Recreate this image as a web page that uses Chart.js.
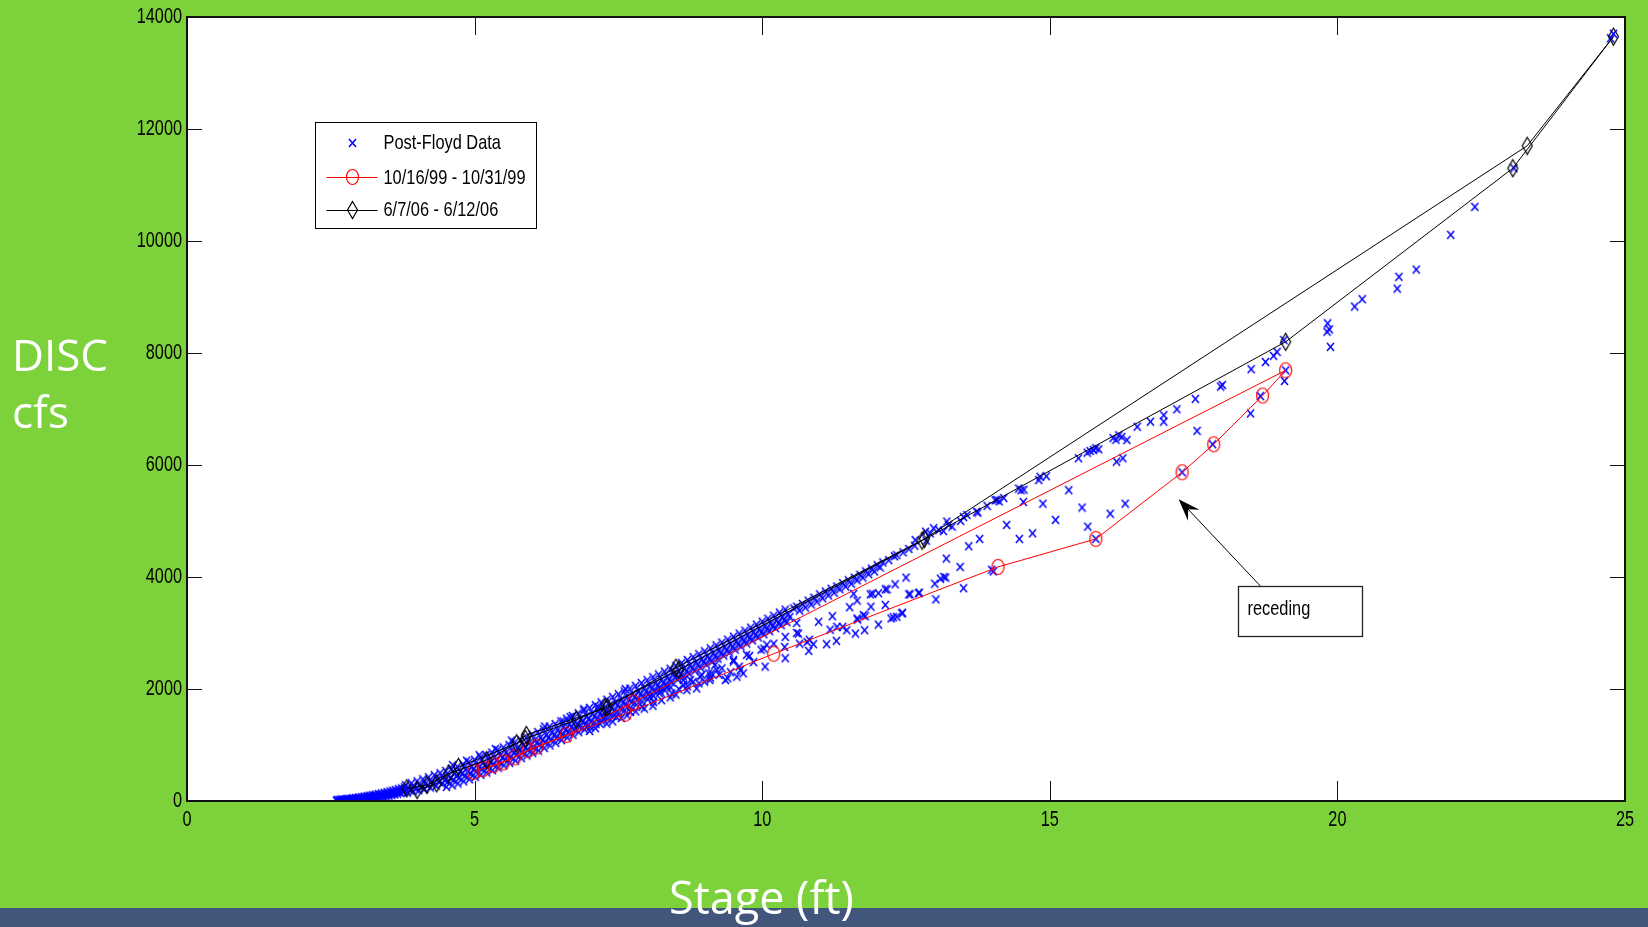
<!DOCTYPE html>
<html>
<head>
<meta charset="utf-8">
<script src="https://cdn.jsdelivr.net/npm/chart.js@4"></script>
<style>
  html, body { margin: 0; padding: 0; }
  body { width: 1648px; height: 927px; background: #7dd23c; position: relative; overflow: hidden; font-family: "Open Sans", sans-serif; }
  #chart { position: absolute; left: 0; top: 0; }
  .bar { position: absolute; left: 0; top: 908px; width: 1648px; height: 19px; background: #42557a; }
  .label { position: absolute; color: #fff; font-size: 44px; line-height: 44px; white-space: nowrap; }
</style>
</head>
<body>
<canvas id="chart" width="1648" height="927"></canvas>
<div class="bar"></div>
<div class="label" style="left:12px;top:332px">DISC</div>
<div class="label" style="left:12px;top:389px">cfs</div>
<div class="label" style="left:669px;top:875px;font-size:45px">Stage (ft)</div>
<script>
/* ------------------ DATA ------------------ */
const stageTicks = [0, 5, 10, 15, 20, 25];
const flowTicks = [0, 2000, 4000, 6000, 8000, 10000, 12000, 14000];

const legendLabels = ["Post-Floyd Data", "10/16/99 - 10/31/99", "6/7/06 - 6/12/06"];

// Post-Floyd measurements [stage ft, discharge cfs]
const floydData = [
  [2.60,8],[2.62,22],[2.65,14],[2.68,30],[2.70,18],[2.73,26],[2.76,12],[2.78,36],
  [2.80,24],[2.83,40],[2.86,30],[2.88,48],[2.90,34],[2.93,54],[2.96,42],[2.98,62],
  [3.00,46],[3.03,70],[3.06,56],[3.08,80],[3.10,60],[3.13,86],[3.16,70],[3.18,96],
  [3.20,74],[3.23,104],[3.26,88],[3.28,116],[3.30,92],[3.33,124],[3.36,104],[3.38,136],
  [3.40,106],[3.43,146],[3.46,122],[3.48,158],[3.50,124],[3.53,170],[3.56,142],[3.58,184],
  [3.60,140],[3.63,196],[3.66,162],[3.68,214],[3.70,160],[3.73,226],[3.76,188],[3.78,244],
  [2.61,0],[2.66,4],[2.71,2],[2.76,6],[2.81,10],[2.86,8],[2.91,16],[2.96,14],
  [3.01,22],[3.06,20],[3.11,30],[3.16,30],[3.21,40],[3.26,44],[3.31,54],[3.36,60],
  [3.41,72],[3.46,80],[3.51,92],[3.56,104],[3.61,118],[3.66,130],[3.71,146],[3.76,160],
  [3.80,282],[3.83,150],[3.85,222],[3.88,190],[3.90,316],[3.93,170],[3.95,252],[3.98,214],
  [4.00,352],[4.03,190],[4.05,280],[4.08,246],[4.10,388],[4.13,214],[4.15,310],[4.18,272],
  [4.20,424],[4.23,240],[4.25,348],[4.28,306],[4.30,462],[4.33,272],[4.35,380],[4.38,340],
  [4.40,498],[4.43,304],[4.45,418],[4.48,372],[4.50,536],[4.53,338],[4.55,452],[4.58,410],
  [4.60,574],[4.63,372],[4.65,492],[4.68,446],[4.70,612],[4.73,410],[4.75,530],[4.78,486],
  [4.80,654],[4.83,448],[4.85,568],[4.88,524],[4.90,694],[4.93,488],[4.95,610],[4.98,566],
  [5.00,736],[5.03,526],[5.05,650],[5.08,604],[5.10,778],[5.13,568],[5.15,690],[5.18,646],
  [5.20,822],[5.23,608],[5.25,734],[5.28,688],[5.30,866],[5.33,650],[5.35,776],[5.38,730],
  [5.40,910],[5.43,692],[5.45,820],[5.48,772],[5.50,956],[5.53,736],[5.55,864],[5.58,816],
  [5.60,1000],[5.63,780],[5.65,906],[5.68,860],[5.70,1046],[5.73,822],[5.75,952],[5.78,904],
  [5.80,1092],[5.83,866],[5.85,998],[5.88,948],[5.90,1138],[5.93,910],[5.95,1044],[5.98,994],
  [6.00,1186],[6.03,954],[6.05,1090],[6.08,1040],[6.10,1232],[6.13,1000],[6.15,1136],[6.18,1086],
  [6.20,1280],[6.23,1044],[6.25,1182],[6.28,1130],[6.30,1328],[6.33,1090],[6.35,1230],[6.38,1176],
  [6.40,1374],[6.43,1136],[6.45,1276],[6.48,1222],[6.50,1422],[6.53,1182],[6.55,1324],[6.58,1270],
  [6.60,1470],[6.63,1230],[6.65,1372],[6.68,1318],[6.70,1518],[6.73,1278],[6.75,1420],[6.78,1366],
  [6.80,1566],[6.83,1324],[6.85,1468],[6.88,1414],[6.90,1616],[6.93,1372],[6.95,1518],[6.98,1462],
  [7.00,1664],[7.03,1420],[7.05,1566],[7.08,1510],[7.10,1712],[7.13,1468],[7.15,1614],[7.18,1560],
  [7.20,1762],[7.23,1516],[7.25,1664],[7.28,1608],[7.30,1810],[7.33,1566],[7.35,1714],[7.38,1658],
  [7.40,1860],[7.43,1614],[7.45,1764],[7.48,1708],[7.50,1908],[7.53,1664],[7.55,1814],[7.58,1758],
  [7.60,1958],[7.63,1712],[7.65,1864],[7.68,1806],[7.70,2008],[7.73,1762],[7.75,1914],[7.78,1856],
  [7.80,2058],[7.83,1812],[7.85,1964],[7.88,1906],[7.90,2108],[7.93,1862],[7.95,2016],[7.98,1958],
  [8.00,2158],[8.03,1912],[8.05,2066],[8.08,2008],[8.10,2210],[8.13,1962],[8.15,2118],[8.18,2060],
  [8.20,2260],[8.23,2014],[8.25,2168],[8.28,2110],[8.30,2312],[8.33,2066],[8.35,2220],[8.38,2162],
  [8.40,2362],[8.43,2118],[8.45,2272],[8.48,2214],[8.50,2414],[8.53,2170],[8.55,2324],[8.58,2266],
  [8.60,2466],[8.63,2222],[8.65,2376],[8.68,2318],[8.70,2518],[8.73,2274],[8.75,2428],[8.78,2370],
  [8.80,2570],[8.83,2328],[8.85,2480],[8.88,2424],[8.90,2622],[8.93,2380],[8.95,2534],[8.98,2476],
  [9.00,2674],[9.03,2434],[9.05,2586],[9.08,2530],[9.10,2726],[9.13,2488],[9.15,2640],[9.18,2584],
  [9.20,2778],[9.23,2542],[9.25,2692],[9.28,2636],[9.30,2830],[9.33,2596],[9.35,2746],[9.38,2690],
  [9.40,2882],[9.43,2650],[9.45,2798],[9.48,2744],[9.50,2936],[9.53,2704],[9.55,2852],[9.58,2798],
  [9.60,2990],[9.63,2758],[9.65,2906],[9.68,2852],[9.70,3042],[9.73,2812],[9.75,2960],[9.78,2906],
  [9.80,3096],[9.83,2868],[9.85,3014],[9.88,2960],[9.90,3150],[9.93,2922],[9.95,3068],[9.98,3014],
  [10.00,3204],[10.03,2976],[10.05,3122],[10.08,3068],[10.10,3256],[10.13,3032],[10.15,3176],[10.18,3122],
  [10.20,3310],[10.23,3086],[10.25,3230],[10.28,3176],[10.30,3364],[10.33,3140],[10.35,3284],[10.38,3230],
  [10.40,3418],[10.43,3194],[10.45,3338],[10.48,3284],
  // lower edge of the dense band
  [4.51,250],[4.61,280],[4.71,312],[4.81,350],[4.91,388],[5.01,428],[5.11,466],[5.21,508],
  [5.31,548],[5.41,594],[5.51,634],[5.61,680],[5.71,722],[5.81,766],[5.91,812],[6.01,856],
  [6.11,900],[6.21,946],[6.31,992],[6.41,1038],[6.51,1086],[6.61,1132],[6.71,1180],[6.81,1228],
  [6.91,1276],[7.01,1324],[7.11,1372],[7.21,1422],[7.31,1472],[7.41,1520],[7.51,1570],[7.61,1620],
  [7.71,1670],[7.81,1720],[7.91,1772],[8.01,1822],[8.11,1874],[8.21,1926],[8.31,1978],[8.41,2030],
  // cloud between the red limbs
  [7.00,1250],[7.10,1300],[7.30,1380],[7.40,1420],[7.55,1480],[7.65,1530],[7.80,1600],[7.95,1650],
  [8.10,1700],[8.25,1800],[8.40,1850],[8.50,1900],[8.55,2000],[8.70,2050],[8.90,2100],[9.10,2200],
  [9.25,2250],[9.45,2300],[9.60,2400],[9.85,2480],
  // a few above the band
  [4.62,640],[4.86,720],[5.08,820],[5.36,930],[5.64,1080],[6.22,1330],[6.90,1640],[7.62,2000],
  // upper track above 10.5 ft
  [10.55,3440],[10.60,3470],[10.65,3400],[10.70,3520],[10.75,3455],[10.80,3580],[10.85,3510],[10.90,3630],
  [10.95,3560],[11.00,3690],[11.05,3620],[11.10,3740],[11.15,3670],[11.20,3790],[11.25,3720],[11.30,3830],
  [11.35,3780],[11.40,3890],[11.45,3830],[11.50,3940],[11.55,3880],[11.60,3990],[11.65,3940],[11.70,4040],
  [11.75,3990],[11.80,4100],[11.85,4050],[11.90,4150],[11.95,4100],[12.00,4210],[12.05,4170],[12.10,4260],
  [12.20,4300],[12.30,4370],[12.34,4390],[12.45,4440],[12.55,4500],[12.66,4660],[12.65,4560],[12.84,4810],
  [12.85,4650],[12.92,4780],[12.98,4870],[13.07,4840],[13.15,4820],[13.21,4990],[13.24,4930],[13.30,4900],
  [13.45,5000],[13.50,5070],[13.56,5107],[13.73,5166],[13.75,5150],[13.91,5270],[14.05,5370],[14.08,5375],
  [14.12,5350],[14.20,5410],[14.46,5580],[14.50,5550],[14.55,5560],[14.81,5730],[14.83,5790],[14.94,5800],
  [15.50,6120],[15.65,6220],[15.70,6250],[15.76,6268],[15.80,6300],[15.85,6280],[16.10,6480],[16.15,6450],
  [16.20,6530],[16.25,6500],[16.34,6446],[16.52,6684],[16.75,6774],[16.98,6890],[16.98,6774],[17.21,6995],
  [17.53,7180],[17.97,7400],[18.00,7430],[18.50,7710],[18.75,7840],[18.89,7950],[18.95,8020],[19.07,8230],
  [19.10,7690],[19.83,8530],[19.82,8380],[19.86,8420],[19.88,8110],[20.30,8830],[20.43,8960],[21.04,9150],
  [21.07,9360],[21.37,9490],[21.97,10110],[22.39,10610],[23.07,11300],[24.80,13700],[24.75,13620],
  // scattered lower measurements
  [6.54,1420],[6.66,1500],[7.15,1680],
  [6.95,1330],[7.18,1380],[7.24,1470],[7.47,1500],[7.71,1590],[7.91,1680],[8.11,1770],[8.05,1860],
  [8.23,1950],[8.34,2040],[8.43,1920],[8.63,2070],[8.69,1980],[8.86,2010],[8.80,2130],[8.63,2160],
  [8.75,2160],[8.92,2220],[9.00,2130],[9.07,2280],[8.95,2250],[9.09,2160],[9.12,2280],[9.18,2430],
  [9.21,2340],[9.30,2370],[9.36,2160],[9.40,2190],[9.56,2220],[9.62,2340],[9.67,2280],[9.50,2490],
  [9.50,2520],[9.73,2610],[9.78,2590],[10.05,2400],[10.03,2720],[9.98,2700],[10.08,2790],[10.20,2810],
  [10.39,2750],[10.40,2550],[10.40,2930],[10.60,3000],[10.60,3180],[10.63,2990],[10.65,2810],[10.78,2840],
  [10.81,2680],[10.82,2880],[10.89,2800],[10.98,3200],[11.12,2800],[11.18,3060],[11.22,3300],[11.29,2860],
  [11.30,3110],[11.40,3110],[11.47,3050],[11.52,3460],[11.59,3700],[11.62,2990],[11.65,3580],[11.65,3260],
  [11.66,3240],[11.76,3320],[11.78,3050],[11.79,3300],[11.88,3690],[11.89,3470],[11.92,3700],[12.02,3150],
  [12.02,3710],[12.14,3500],[12.14,3780],[12.17,3780],[12.24,3260],[12.28,3280],[12.31,3870],[12.34,3290],
  [12.43,3350],[12.44,3360],[12.50,3990],[12.55,3690],[12.57,3690],[12.72,3710],[12.73,3720],[13.00,3880],
  [13.02,3600],[13.10,3970],[13.16,4000],[13.19,3990],[13.20,4330],[13.44,4180],[13.50,3800],[13.59,4550],
  [13.78,4680],[13.99,4130],[14.02,4100],[14.25,4930],[14.47,4680],[14.54,5340],[14.70,4780],[14.88,5310],
  [15.10,5020],[15.33,5550],[15.56,5240],[15.66,4900],[15.80,4680],[16.05,5130],[16.16,6060],[16.27,6120],
  [16.31,5310],[17.30,5870],[17.56,6610],[17.83,6370],[18.49,6920],[18.66,7230],[19.08,7500]
];

// 10/16/99 - 10/31/99 event (rising then receding)
const event99Stage = [4.98, 5.33, 5.70, 6.08, 6.60, 7.76, 19.10, 18.70, 17.85, 17.30, 15.80, 14.10, 10.20, 7.62, 5.93, 5.50, 5.15];
const event99Flow  = [520, 640, 780, 970, 1180, 1760, 7690, 7240, 6370, 5870, 4680, 4180, 2630, 1560, 910, 690, 570];

// 6/7/06 - 6/12/06 event
const event06Stage = [3.82, 4.17, 4.55, 5.21, 5.88, 6.77, 7.27, 8.55, 12.78, 19.10, 23.05, 24.80, 23.30, 12.82, 8.50, 7.31, 5.90, 5.73, 4.72, 4.34, 4.00];
const event06Flow  = [226, 286, 490, 730, 1110, 1450, 1680, 2340, 4650, 8200, 11300, 13650, 11700, 4680, 2380, 1670, 1180, 1030, 610, 316, 196];

// "receding" note, in data units
const noteText = "receding";
const noteArrowFrom = [18.66, 3840];
const noteArrowTo = [17.24, 5390];
const noteBox = [18.28, 3840, 20.42, 2946];

/* ------------------ TEXT + MARKERS ------------------ */
const FONT = "'Liberation Sans', Arial, sans-serif";

// matlab-ish narrow text: squeeze horizontally
function narrowText(ctx, text, x, y, size, squeeze, align) {
    ctx.save();
    ctx.font = size + "px " + FONT;
    ctx.fillStyle = "#000";
    ctx.textBaseline = "middle";
    ctx.textAlign = align || "left";
    ctx.translate(x, y);
    ctx.scale(squeeze, 1);
    ctx.fillText(text, 0, 0);
    ctx.restore();
}

function makeMarker(w, h, draw) {
    const c = document.createElement("canvas");
    c.width = w;
    c.height = h;
    draw(c.getContext("2d"), w, h);
    return c;
}

const crossMark = makeMarker(9, 10, (g, w, h) => {
    g.strokeStyle = "#0000ff";
    g.lineWidth = 1.5;
    g.beginPath();
    g.moveTo(1, 1); g.lineTo(w - 1, h - 1);
    g.moveTo(w - 1, 1); g.lineTo(1, h - 1);
    g.stroke();
});

const ringMark = makeMarker(15, 18, (g, w, h) => {
    g.strokeStyle = "#ff0000";
    g.lineWidth = 1.2;
    g.beginPath();
    g.ellipse(w / 2, h / 2, 6, 7.5, 0, 0, Math.PI * 2);
    g.stroke();
});

const diamondMark = makeMarker(13, 20, (g, w, h) => {
    g.strokeStyle = "#000";
    g.lineWidth = 1.2;
    g.beginPath();
    g.moveTo(w / 2, 1.5);
    g.lineTo(w - 1.5, h / 2);
    g.lineTo(w / 2, h - 1.5);
    g.lineTo(1.5, h / 2);
    g.closePath();
    g.stroke();
});

/* ------------------ PLUGINS ------------------ */
const plotBackground = {
    id: "plotBackground",
    beforeDraw(chart) {
        const { ctx, chartArea: a } = chart;
        ctx.save();
        ctx.fillStyle = "#fff";
        ctx.fillRect(a.left, a.top, a.width, a.height);
        ctx.restore();
    }
};

const boxAndTicks = {
    id: "boxAndTicks",
    afterDraw(chart) {
        const { ctx, chartArea: a, scales } = chart;
        ctx.save();
        ctx.strokeStyle = "#111";
        ctx.lineWidth = 1;
        ctx.beginPath();
        stageTicks.slice(1, -1).forEach(v => {
            const px = Math.round(scales.x.getPixelForValue(v)) + 0.5;
            ctx.moveTo(px, a.bottom); ctx.lineTo(px, a.bottom - 20);
            ctx.moveTo(px, a.top); ctx.lineTo(px, a.top + 18);
        });
        flowTicks.slice(1, -1).forEach(v => {
            const py = Math.round(scales.y.getPixelForValue(v)) + 0.5;
            ctx.moveTo(a.left, py); ctx.lineTo(a.left + 15, py);
            ctx.moveTo(a.right, py); ctx.lineTo(a.right - 15, py);
        });
        ctx.stroke();
        ctx.lineWidth = 2;
        ctx.strokeRect(a.left, a.top, a.width, a.height);
        ctx.restore();

        // tick labels, placed by the scales
        stageTicks.forEach(v => {
            narrowText(ctx, String(v), scales.x.getPixelForValue(v), a.bottom + 19, 22, 0.74, "center");
        });
        flowTicks.forEach(v => {
            narrowText(ctx, String(v), a.left - 5, scales.y.getPixelForValue(v), 22, 0.74, "right");
        });
    }
};

const boxLegend = {
    id: "boxLegend",
    afterDraw(chart) {
        const { ctx, chartArea: a } = chart;
        const x = a.left + 128.5, y = a.top + 105.5, w = 221, h = 106;
        ctx.save();
        ctx.fillStyle = "#fff";
        ctx.fillRect(x, y, w, h);
        ctx.strokeStyle = "#000";
        ctx.lineWidth = 1;
        ctx.strokeRect(x, y, w, h);

        const rows = [y + 20, y + 54.5, y + 87];
        const marks = [crossMark, ringMark, diamondMark];
        const lineColors = [null, "#ff0000", "#000"];
        rows.forEach((ry, i) => {
            if (lineColors[i]) {
                ctx.strokeStyle = lineColors[i];
                ctx.beginPath();
                ctx.moveTo(x + 11, Math.round(ry) + 0.5);
                ctx.lineTo(x + 62, Math.round(ry) + 0.5);
                ctx.stroke();
            }
            const m = marks[i];
            ctx.drawImage(m, Math.round(x + 36.5 - m.width / 2), Math.round(ry - m.height / 2));
            narrowText(ctx, legendLabels[i], x + 68, ry + 1, 21, 0.78);
        });
        ctx.restore();
    }
};

const noteArrow = {
    id: "noteArrow",
    afterDraw(chart) {
        const { ctx, scales } = chart;
        const px = v => scales.x.getPixelForValue(v);
        const py = v => scales.y.getPixelForValue(v);
        ctx.save();

        // box with text
        const bx0 = Math.round(px(noteBox[0])) + 0.5, by0 = Math.round(py(noteBox[1])) + 0.5;
        const bx1 = Math.round(px(noteBox[2])) + 0.5, by1 = Math.round(py(noteBox[3])) + 0.5;
        ctx.fillStyle = "#fff";
        ctx.fillRect(bx0, by0, bx1 - bx0, by1 - by0);
        ctx.strokeStyle = "#222";
        ctx.lineWidth = 1.3;
        ctx.strokeRect(bx0, by0, bx1 - bx0, by1 - by0);
        narrowText(ctx, noteText, bx0 + 9, (by0 + by1) / 2 - 2, 21, 0.78);

        // arrow
        const x0 = px(noteArrowFrom[0]), y0 = py(noteArrowFrom[1]);
        const x1 = px(noteArrowTo[0]), y1 = py(noteArrowTo[1]);
        const len = Math.hypot(x0 - x1, y0 - y1);
        const ux = (x0 - x1) / len, uy = (y0 - y1) / len;
        ctx.strokeStyle = "#000";
        ctx.lineWidth = 1;
        ctx.beginPath();
        ctx.moveTo(x0, y0);
        ctx.lineTo(x1 + ux * 12, y1 + uy * 12);
        ctx.stroke();
        ctx.fillStyle = "#000";
        ctx.beginPath();
        ctx.moveTo(x1, y1);
        ctx.lineTo(x1 + ux * 22 - uy * 8, y1 + uy * 22 + ux * 8);
        ctx.lineTo(x1 + ux * 14, y1 + uy * 14);
        ctx.lineTo(x1 + ux * 22 + uy * 8, y1 + uy * 22 - ux * 8);
        ctx.closePath();
        ctx.fill();
        ctx.restore();
    }
};

/* ------------------ CHART ------------------ */
const toPoints = (xs, ys) => xs.map((x, i) => ({ x: x, y: ys[i] }));

new Chart(document.getElementById("chart"), {
    type: "scatter",
    data: {
        datasets: [
            {
                label: legendLabels[2],
                data: toPoints(event06Stage, event06Flow),
                showLine: true,
                borderColor: "#000",
                borderWidth: 1,
                pointStyle: diamondMark,
                tension: 0,
                order: 1
            },
            {
                label: legendLabels[1],
                data: toPoints(event99Stage, event99Flow),
                showLine: true,
                borderColor: "#ff0000",
                borderWidth: 1,
                pointStyle: ringMark,
                tension: 0,
                order: 2
            },
            {
                label: legendLabels[0],
                data: floydData.map(([x, y]) => ({ x, y })),
                showLine: false,
                borderColor: "#0000ff",
                pointStyle: crossMark,
                order: 3
            }
        ]
    },
    options: {
        responsive: false,
        animation: false,
        devicePixelRatio: 1,
        layout: { padding: { left: 0, right: 23, top: 17, bottom: 0 } },
        plugins: { legend: { display: false }, tooltip: { enabled: false } },
        scales: {
            x: {
                type: "linear",
                min: 0,
                max: 25,
                grid: { display: false, drawTicks: false },
                border: { display: false },
                afterBuildTicks: s => { s.ticks = stageTicks.map(v => ({ value: v })); },
                ticks: { display: false },
                afterFit: s => { s.height = 126; }
            },
            y: {
                type: "linear",
                min: 0,
                max: 14000,
                grid: { display: false, drawTicks: false },
                border: { display: false },
                afterBuildTicks: s => { s.ticks = flowTicks.map(v => ({ value: v })); },
                ticks: { display: false },
                afterFit: s => { s.width = 187; }
            }
        }
    },
    plugins: [plotBackground, boxAndTicks, boxLegend, noteArrow]
});
</script>
</body>
</html>
